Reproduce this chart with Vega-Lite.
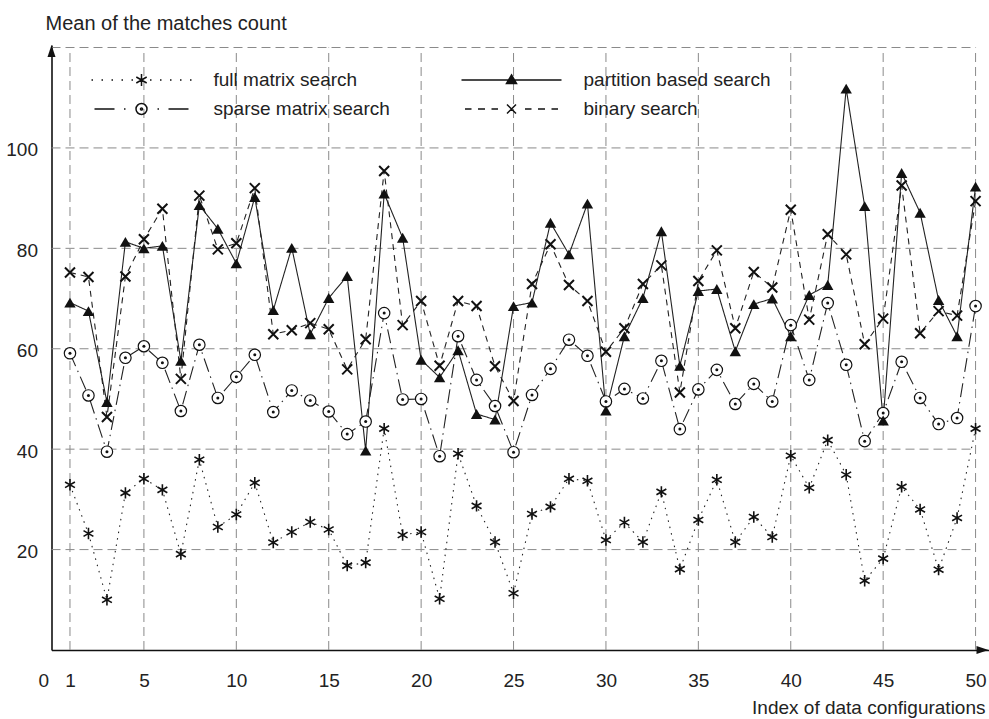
{
  "$schema": "https://vega.github.io/schema/vega-lite/v6.json",
  "width": 937,
  "height": 605,
  "autosize": {"type": "none"},
  "padding": {"left": 51.5, "top": 45, "right": 0.5, "bottom": 69},
  "config": {"view": {"stroke": null}, "font": "Liberation Sans"},
  "datasets": {
    "series": [
      {"i":1,"f":32.9,"s":59.1,"p":69.2,"b":75.2},
      {"i":2,"f":23.2,"s":50.7,"p":67.5,"b":74.3},
      {"i":3,"f":10.0,"s":39.5,"p":49.4,"b":46.4},
      {"i":4,"f":31.3,"s":58.2,"p":81.3,"b":74.4},
      {"i":5,"f":34.1,"s":60.5,"p":80.0,"b":81.8},
      {"i":6,"f":31.9,"s":57.2,"p":80.5,"b":87.9},
      {"i":7,"f":19.1,"s":47.6,"p":57.6,"b":54.0},
      {"i":8,"f":37.9,"s":60.8,"p":88.6,"b":90.5},
      {"i":9,"f":24.5,"s":50.2,"p":83.9,"b":79.8},
      {"i":10,"f":27.0,"s":54.4,"p":77.0,"b":81.0},
      {"i":11,"f":33.3,"s":58.8,"p":90.2,"b":92.0},
      {"i":12,"f":21.4,"s":47.4,"p":67.7,"b":62.9},
      {"i":13,"f":23.5,"s":51.7,"p":80.1,"b":63.7},
      {"i":14,"f":25.5,"s":49.7,"p":62.9,"b":65.1},
      {"i":15,"f":24.0,"s":47.5,"p":70.1,"b":63.9},
      {"i":16,"f":16.8,"s":43.0,"p":74.5,"b":55.9},
      {"i":17,"f":17.4,"s":45.5,"p":39.7,"b":61.9},
      {"i":18,"f":44.1,"s":67.1,"p":90.9,"b":95.4},
      {"i":19,"f":22.9,"s":49.9,"p":82.1,"b":64.7},
      {"i":20,"f":23.5,"s":50.0,"p":57.8,"b":69.5},
      {"i":21,"f":10.2,"s":38.6,"p":54.3,"b":56.6},
      {"i":22,"f":39.1,"s":62.5,"p":59.7,"b":69.5},
      {"i":23,"f":28.7,"s":53.8,"p":47.0,"b":68.5},
      {"i":24,"f":21.5,"s":48.6,"p":45.9,"b":56.5},
      {"i":25,"f":11.3,"s":39.4,"p":68.5,"b":49.6},
      {"i":26,"f":27.1,"s":50.8,"p":69.2,"b":72.9},
      {"i":27,"f":28.5,"s":56.0,"p":85.1,"b":80.8},
      {"i":28,"f":34.1,"s":61.8,"p":78.8,"b":72.7},
      {"i":29,"f":33.7,"s":58.6,"p":88.9,"b":69.5},
      {"i":30,"f":21.9,"s":49.5,"p":47.7,"b":59.4},
      {"i":31,"f":25.4,"s":52.0,"p":62.5,"b":64.1},
      {"i":32,"f":21.5,"s":50.1,"p":70.1,"b":72.9},
      {"i":33,"f":31.5,"s":57.6,"p":83.4,"b":76.6},
      {"i":34,"f":16.1,"s":44.0,"p":56.6,"b":51.3},
      {"i":35,"f":25.9,"s":51.9,"p":71.5,"b":73.5},
      {"i":36,"f":33.9,"s":55.8,"p":71.9,"b":79.6},
      {"i":37,"f":21.5,"s":49.0,"p":59.5,"b":64.1},
      {"i":38,"f":26.5,"s":53.0,"p":68.9,"b":75.3},
      {"i":39,"f":22.5,"s":49.5,"p":70.0,"b":72.2},
      {"i":40,"f":38.7,"s":64.7,"p":62.5,"b":87.7},
      {"i":41,"f":32.3,"s":53.8,"p":70.7,"b":65.8},
      {"i":42,"f":41.8,"s":69.1,"p":72.7,"b":82.8},
      {"i":43,"f":34.9,"s":56.8,"p":111.8,"b":78.8},
      {"i":44,"f":13.8,"s":41.6,"p":88.4,"b":60.9},
      {"i":45,"f":18.2,"s":47.2,"p":45.7,"b":66.0},
      {"i":46,"f":32.5,"s":57.4,"p":95.0,"b":92.5},
      {"i":47,"f":28.0,"s":50.2,"p":87.1,"b":63.1},
      {"i":48,"f":16.0,"s":45.0,"p":69.7,"b":67.5},
      {"i":49,"f":26.3,"s":46.2,"p":62.5,"b":66.6},
      {"i":50,"f":44.1,"s":68.5,"p":92.3,"b":89.4}
    ],
    "vgrid": [{"i":1},{"i":5},{"i":10},{"i":15},{"i":20},{"i":25},{"i":30},{"i":35},{"i":40},{"i":45},{"i":50}],
    "hgrid": [{"v":20},{"v":40},{"v":60},{"v":80},{"v":100},{"v":120}],
    "methods": [
      {"method":"full matrix search"},
      {"method":"sparse matrix search"},
      {"method":"partition based search"},
      {"method":"binary search"}
    ]
  },
  "layer": [
    {
      "data": {"name": "vgrid"},
      "mark": {"type": "rule", "stroke": "#8a8a8a", "strokeWidth": 1, "strokeDash": [9, 5]},
      "encoding": {
        "x": {"field": "i", "type": "quantitative", "scale": {"domain": [0, 50.7], "nice": false, "zero": false}},
        "y": {"datum": 0, "type": "quantitative", "scale": {"domain": [0, 120.5], "nice": false, "zero": false}},
        "y2": {"datum": 120}
      }
    },
    {
      "data": {"name": "hgrid"},
      "mark": {"type": "rule", "stroke": "#8a8a8a", "strokeWidth": 1, "strokeDash": [9, 5]},
      "encoding": {
        "y": {"field": "v", "type": "quantitative"},
        "x": {"datum": 0, "type": "quantitative"},
        "x2": {"datum": 50}
      }
    },
    {
      "data": {"name": "series"},
      "transform": [{"fold": ["f", "s", "p", "b"], "as": ["method", "v"]}],
      "mark": {"type": "line", "stroke": "#222", "strokeWidth": 1.1},
      "encoding": {
        "x": {
          "field": "i", "type": "quantitative",
          "axis": {
            "values": [0, 1, 5, 10, 15, 20, 25, 30, 35, 40, 45, 50],
            "grid": false, "ticks": false,
            "domainColor": "#111", "domainWidth": 1.6,
            "labelFont": "Liberation Sans", "labelFontSize": 19, "labelColor": "#222",
            "labelPadding": 21, "labelOverlap": false, "labelFlush": false,
            "labelAlign": {"condition": {"test": "datum.value === 0", "value": "right"}, "value": "center"},
            "labelOffset": {"condition": {"test": "datum.value === 0", "value": -3}, "value": 0},
            "title": "Index of data configurations",
            "titleFont": "Liberation Sans", "titleFontSize": 19, "titleFontWeight": "normal", "titleColor": "#222",
            "titleX": 933.5, "titleY": 63, "titleAlign": "right", "titleBaseline": "alphabetic"
          }
        },
        "y": {
          "field": "v", "type": "quantitative",
          "axis": {
            "values": [20, 40, 60, 80, 100],
            "grid": false, "ticks": false,
            "domainColor": "#111", "domainWidth": 1.6,
            "labelFont": "Liberation Sans", "labelFontSize": 19, "labelColor": "#222",
            "labelPadding": 14, "labelOffset": 2, "labelOverlap": false, "labelFlush": false,
            "title": "Mean of the matches count",
            "titleFont": "Liberation Sans", "titleFontSize": 20, "titleFontWeight": "normal", "titleColor": "#222",
            "titleAngle": 0, "titleX": -6.5, "titleY": -16, "titleAlign": "left", "titleBaseline": "alphabetic"
          }
        },
        "strokeDash": {
          "field": "method", "type": "nominal",
          "scale": {"domain": ["f", "s", "p", "b"], "range": [[1.5, 5], [14, 5, 1.5, 5], [1, 0], [6, 5]]},
          "legend": null
        }
      }
    },
    {
      "data": {"name": "series"},
      "mark": {"type": "point", "shape": "M0,-1V1M-0.866,-0.5L0.866,0.5M-0.866,0.5L0.866,-0.5", "size": 130, "stroke": "#111", "strokeWidth": 1.6, "fill": "transparent", "opacity": 1},
      "encoding": {
        "x": {"field": "i", "type": "quantitative"},
        "y": {"field": "f", "type": "quantitative"}
      }
    },
    {
      "data": {"name": "series"},
      "mark": {"type": "point", "shape": "circle", "size": 130, "stroke": "#111", "strokeWidth": 1.2, "fill": "white", "filled": true, "opacity": 1},
      "encoding": {
        "x": {"field": "i", "type": "quantitative"},
        "y": {"field": "s", "type": "quantitative"}
      }
    },
    {
      "data": {"name": "series"},
      "mark": {"type": "point", "shape": "circle", "size": 9, "fill": "#111", "filled": true, "strokeWidth": 0, "opacity": 1},
      "encoding": {
        "x": {"field": "i", "type": "quantitative"},
        "y": {"field": "s", "type": "quantitative"}
      }
    },
    {
      "data": {"name": "series"},
      "mark": {"type": "point", "shape": "triangle-up", "size": 130, "fill": "#111", "filled": true, "strokeWidth": 0, "opacity": 1},
      "encoding": {
        "x": {"field": "i", "type": "quantitative"},
        "y": {"field": "p", "type": "quantitative"}
      }
    },
    {
      "data": {"name": "series"},
      "mark": {"type": "point", "shape": "M-1,-1L1,1M-1,1L1,-1", "size": 100, "stroke": "#111", "strokeWidth": 2, "fill": "transparent", "opacity": 1},
      "encoding": {
        "x": {"field": "i", "type": "quantitative"},
        "y": {"field": "b", "type": "quantitative"}
      }
    },
    {
      "data": {"values": [{}]},
      "mark": {"type": "point", "shape": "M-2.4,-0.8L0,0L-2.4,0.8Z", "size": 100, "fill": "#111", "filled": true, "strokeWidth": 0, "opacity": 1},
      "encoding": {
        "x": {"datum": 50.7, "type": "quantitative"},
        "y": {"datum": 0, "type": "quantitative"}
      }
    },
    {
      "data": {"values": [{}]},
      "mark": {"type": "point", "shape": "M-0.8,2.4L0,0L0.8,2.4Z", "size": 100, "fill": "#111", "filled": true, "strokeWidth": 0, "opacity": 1},
      "encoding": {
        "x": {"datum": 0, "type": "quantitative"},
        "y": {"datum": 120.5, "type": "quantitative"}
      }
    },
    {
      "data": {"name": "methods"},
      "mark": {"type": "point", "opacity": 0, "stroke": "#111", "fill": "transparent", "strokeWidth": 1.5},
      "encoding": {
        "shape": {
          "field": "method", "type": "nominal",
          "scale": {
            "domain": ["full matrix search", "sparse matrix search", "partition based search", "binary search"],
            "range": [
              "M-1,0h0.03M-0.8,0h0.03M-0.6,0h0.03M-0.4,0h0.03M-0.2,0h0.03M0.17,0h0.03M0.37,0h0.03M0.57,0h0.03M0.77,0h0.03M0.97,0h0.03M0,-0.12V0.12M-0.104,-0.06L0.104,0.06M-0.104,0.06L0.104,-0.06",
              "M-0.94,0H-0.54M-0.35,0h0.03M0.32,0h0.03M0.54,0H0.94M0.11,0A0.11,0.11 0 1,1 -0.11,0A0.11,0.11 0 1,1 0.11,0M0.02,0A0.02,0.02 0 1,1 -0.02,0A0.02,0.02 0 1,1 0.02,0",
              "M-1,0H1M0,-0.1L0.1,0.07L-0.1,0.07ZM0,-0.055L0.055,0.045L-0.055,0.045ZM0,-0.015L0.015,0.025L-0.015,0.025Z",
              "M-0.93,0H-0.8M-0.67,0H-0.53M-0.4,0H-0.27M0.27,0H0.4M0.53,0H0.67M0.8,0H0.93M-0.09,-0.09L0.09,0.09M-0.09,0.09L0.09,-0.09"
            ]
          },
          "legend": {
            "title": null, "orient": "none", "legendX": 39, "legendY": 24,
            "columns": 2, "columnPadding": 70, "rowPadding": 7, "padding": 0, "clipHeight": 22,
            "labelOffset": 21, "labelFont": "Liberation Sans", "labelFontSize": 19, "labelColor": "#222", "labelLimit": 400, "labelBaseline": "middle",
            "symbolSize": 10000, "symbolStrokeWidth": 1.5, "symbolStrokeColor": "#111", "symbolFillColor": "transparent", "symbolOpacity": 1
          }
        }
      }
    }
  ]
}
